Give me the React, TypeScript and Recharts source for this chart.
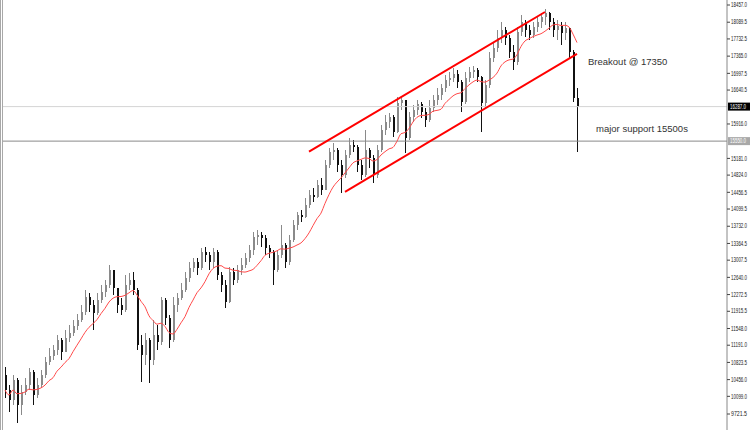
import React from 'react';
import { ComposedChart, Bar, Line, XAxis, YAxis, ReferenceLine, ReferenceDot } from 'recharts';

// ---- data ----
const firstOpen = 10555;
const closes = [
  10234, 10021, 10448, 9914, 10192, 10341, 10619, 10128, 10341, 10555, 10832, 10961, 11089, 11302, 11046, 11345,
  11452, 11601, 11729, 11900, 12221, 12050, 11879, 12157, 12327, 12477, 12797, 12413, 12050, 11943, 12477, 12584,
  12370, 11196, 10982, 11302, 10875, 11409, 11260, 12157, 11772, 11302, 12050, 12199, 12370, 12626, 12840, 12968,
  12840, 13182, 13118, 12968, 13182, 12691, 12477, 12114, 12755, 12584, 12797, 12904, 13054, 13224, 13502,
  13545, 13481, 13267, 13182, 12797, 13118, 13331, 12968, 13438, 13758, 13972, 13929, 14186, 14399, 14356, 14613,
  14506, 15040, 15318, 15360, 15040, 14826, 15253, 15467, 15424, 15040, 14826, 15360, 15189, 14826, 15360,
  15787, 15958, 16065, 15745, 16364, 16428, 15617, 16065, 16215, 16343, 16172, 16001, 16257, 16428, 16535, 16684,
  16855, 16898, 16984, 16813, 16386, 16898, 17026, 17069, 16920, 16364, 16749, 17325, 17539, 17752,
  17923, 17752, 17453, 17240, 17881, 18094, 17923, 17816, 17987, 18094, 18201, 18286, 18094, 17923, 18009, 17859,
  17966, 17453, 16471, 16287,
];
const highs = [
  10726, 10341, 10555, 10491, 10341, 10491, 10704, 10662, 10491, 10662, 10939, 11131, 11196, 11409, 11345, 11516,
  11623, 11729, 11858, 12050, 12370, 12306, 12157, 12306, 12477, 12584, 12904, 12755, 12370, 12199, 12691, 12733,
  12755, 12413, 11409, 11452, 11345, 11729, 11623, 12221, 12199, 11836, 12221, 12306, 12520, 12755, 12968, 13054,
  13054, 13267, 13289, 13182, 13267, 13224, 12755, 12584, 12861, 12840, 12904, 13054, 13160, 13331, 13609,
  13652, 13609, 13545, 13331, 13224, 13224, 13758, 13374, 13545, 13865, 14036, 14079, 14335, 14506, 14549, 14720,
  14762, 15147, 15403, 15510, 15403, 15147, 15360, 15617, 15574, 15467, 15147, 15787, 15403, 15253, 15467,
  15894, 16108, 16151, 16108, 16492, 16514, 16428, 16172, 16321, 16428, 16386, 16257, 16428, 16535, 16684, 16770,
  16962, 17026, 17112, 17069, 16855, 17026, 17133, 17154, 17112, 16941, 16855, 17453, 17667, 17923,
  18094, 17987, 17816, 17603, 17987, 18244, 18137, 18030, 18094, 18201, 18286, 18372, 18308, 18180, 18137, 18094,
  18094, 17881, 17496, 16684,
];
const lows = [
  10064, 9765, 9914, 9530, 9700, 10128, 10234, 9914, 10064, 10277, 10491, 10768, 10875, 10982, 10875, 11046,
  11260, 11388, 11516, 11687, 11836, 11900, 11516, 11836, 12093, 12221, 12413, 12263, 11879, 11836, 11900, 12370,
  12263, 11089, 10405, 10768, 10384, 10768, 11089, 11196, 11623, 11131, 11260, 11900, 12157, 12327, 12541, 12755,
  12691, 12797, 12968, 12797, 12840, 12584, 12327, 11986, 12093, 12477, 12520, 12691, 12840, 12968, 13118,
  13331, 13289, 13118, 13054, 12477, 12755, 13054, 12840, 12904, 13395, 13652, 13822, 13908, 14122, 14250, 14335,
  14399, 14506, 14976, 15147, 14890, 14442, 14762, 15189, 15318, 14890, 14720, 14784, 14976, 14655, 14762,
  15318, 15681, 15830, 15638, 15724, 16215, 15296, 15574, 15958, 16108, 16044, 15852, 15958, 16172, 16321, 16428,
  16599, 16727, 16813, 16684, 16172, 16343, 16813, 16898, 16813, 15745, 16257, 16684, 17240, 17453,
  17646, 17603, 17325, 17069, 17176, 17795, 17774, 17710, 17752, 17881, 17966, 18030, 17923, 17774, 17710, 17603,
  17710, 17325, 16386, 15318,
];
const TOTAL_SLOTS = 181; // bars + empty chart shift on the right
const MA_PERIOD = 10;

const yTicks = [
  18457.0, 18089.5, 17732.5, 17365.0, 16997.5, 16640.5, 15916.0, 15181.0, 14824.0, 14456.5, 14099.5,
  13732.0, 13364.5, 13007.5, 12640.0, 12272.5, 11915.5, 11548.0, 11191.0, 10823.5, 10456.0, 10099.0, 9721.5,
];
const yDomain = [9380, 18564];

const currentPrice = 16287;
const supportLevel = 15550;

const upperChannel = [{ x: 76, y: 15326 }, { x: 135, y: 18308 }];
const lowerChannel = [{ x: 85, y: 14468 }, { x: 143, y: 17415 }];

const notes = [
  { text: 'Breakout @ 17350', x: 146, y: 17240 },
  { text: 'major support 15500s', x: 148, y: 15809 },
];

// ---- build table ----
const maValues = closes.map((_, i) => {
  const s = Math.max(0, i - MA_PERIOD + 1);
  const w = closes.slice(s, i + 1);
  return w.reduce((a, b) => a + b, 0) / w.length;
});

const data = Array.from({ length: TOTAL_SLOTS }, (_, i) => {
  if (i >= closes.length) return { i, range: null, ma: null };
  const o = i === 0 ? firstOpen : closes[i - 1];
  const c = closes[i];
  const h = Math.max(highs[i], o, c);
  const l = Math.min(lows[i], o, c);
  return { i, o, c, h, l, range: [l, h], ma: maValues[i] };
});

const FONT = '"Liberation Sans", Arial, sans-serif';

const Candle = (props: any) => {
  const { x, y, width, height, payload } = props;
  if (!payload || payload.c == null || height == null) return null;
  const { o, c, h, l } = payload;
  const top = Math.min(y, y + height);
  const bot = Math.max(y, y + height);
  const sc = (v: number) => top + ((h - v) / (h - l || 1)) * (bot - top);
  const cx = Math.round(x + width / 2);
  const up = c >= o;
  const color = up ? '#8a8a8a' : '#111111';
  const yo = sc(o);
  const yc = sc(c);
  const bt = Math.min(yo, yc);
  const bb = Math.max(yo, yc);
  return (
    <g shapeRendering="crispEdges">
      <line x1={cx + 0.5} x2={cx + 0.5} y1={top} y2={bot} stroke={color} strokeWidth={1} />
      <rect x={cx - 0.5} y={bt} width={2} height={Math.max(1, bb - bt)} fill={color} />
    </g>
  );
};

const AxisTick = (props: any) => {
  const { x, y, payload } = props;
  return (
    <g>
      <line x1={x} x2={x + 3} y1={y} y2={y} stroke="#444" />
      <text x={x + 4} y={y} dy={2.2} fontSize={6.5} fill="#222" fontFamily={FONT}
        textLength={16} lengthAdjust="spacingAndGlyphs">
        {Number(payload.value).toFixed(1)}
      </text>
    </g>
  );
};

const makeTag = (text: string, bg: string, fg: string) => (props: any) => {
  const { viewBox } = props;
  if (!viewBox) return null;
  const ax = viewBox.x + viewBox.width;
  const y = viewBox.y;
  return (
    <g>
      <rect x={ax + 1} y={y - 4} width={22} height={8} fill={bg} />
      <text x={ax + 3} y={y} dy={2.2} fontSize={6.5} fill={fg} fontFamily={FONT}
        textLength={16} lengthAdjust="spacingAndGlyphs">{text}</text>
    </g>
  );
};

const makeNote = (text: string) => (props: any) => (
  <text x={props.cx - 1} y={props.cy} dy={3.4} fontSize={9.5} fill="#333" fontFamily={FONT}>{text}</text>
);

export default function App() {
  return (
    <div style={{ position: 'absolute', left: 0, top: 0, width: 750, height: 430, background: '#fff' }}>
      <div style={{ position: 'absolute', left: 0, top: 0, width: 1, height: 430, background: '#a8a8a8' }} />
      <div style={{ position: 'absolute', left: 2, top: 0, width: 1, height: 430, background: '#a8a8a8' }} />
      <ComposedChart width={750} height={430} data={data}
        margin={{ top: 0, right: 0, bottom: 0, left: 3 }} barCategoryGap={0}>
        <XAxis dataKey="i" type="category" hide />
        <YAxis orientation="right" width={23} type="number" domain={yDomain} allowDataOverflow
          ticks={yTicks} interval={0} tickSize={0} tickMargin={0} tick={<AxisTick />}
          axisLine={{ stroke: '#888', strokeWidth: 1 }} tickLine={false} />
        <ReferenceLine y={currentPrice} stroke="#d4d4d4" strokeWidth={1}
          label={makeTag(currentPrice.toFixed(1), '#000', '#fff')} />
        <ReferenceLine y={supportLevel} stroke="#8a8a8a" strokeWidth={1}
          label={makeTag(supportLevel.toFixed(1), '#a8a8a8', '#fff')} />
        <Bar dataKey="range" shape={<Candle />} isAnimationActive={false} />
        <Line dataKey="ma" type="monotone" stroke="#ff4a4a" strokeWidth={1} dot={false}
          activeDot={false} isAnimationActive={false} connectNulls={false} />
        <ReferenceLine segment={upperChannel} stroke="#ff0000" strokeWidth={2} />
        <ReferenceLine segment={lowerChannel} stroke="#ff0000" strokeWidth={2} />
        {notes.map((n) => (
          <ReferenceDot key={n.text} x={n.x} y={n.y} r={0} shape={makeNote(n.text)} />
        ))}
      </ComposedChart>
    </div>
  );
}
